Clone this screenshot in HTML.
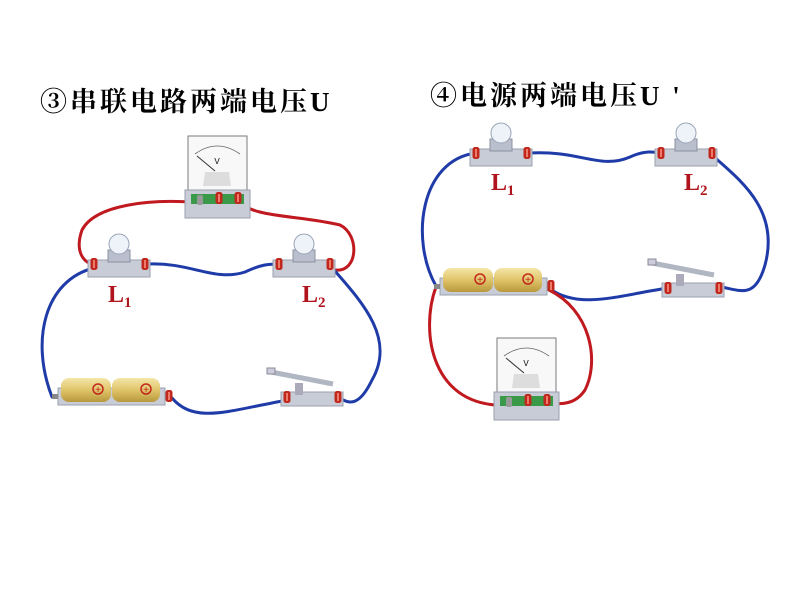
<!DOCTYPE html>
<html><head><meta charset="utf-8"><style>
body{margin:0;background:#fff;width:800px;height:600px;overflow:hidden}
.t{position:absolute;font-family:"Liberation Serif","Noto Serif CJK SC",serif;font-weight:bold;font-size:27px;color:#000;white-space:nowrap;letter-spacing:3px}
</style></head><body>
<div class="t" style="left:40px;top:80px">③串联电路两端电压U</div>
<div class="t" style="left:430px;top:74px">④电源两端电压U '</div>
<svg width="800" height="600" style="position:absolute;left:0;top:0">
<defs>
<linearGradient id="bat" x1="0" y1="0" x2="0" y2="1"><stop offset="0" stop-color="#f4e6a8"/><stop offset=".5" stop-color="#e0c46a"/><stop offset="1" stop-color="#b8983c"/></linearGradient>
<g id="term"><rect x="-3.5" y="-6" width="7" height="12" rx="2.5" fill="#c0281e"/><rect x="-1" y="-4" width="2" height="8" fill="#f07a6a"/></g>
<g id="lamp">
<rect x="0" y="0" width="62" height="17" fill="#c8ccd6" stroke="#9aa0ae"/>
<rect x="20" y="-10" width="22" height="12" fill="#b9bfcc" stroke="#8a90a0"/>
<circle cx="31" cy="-16" r="10" fill="#eef3fa" stroke="#9aa4b6"/>
<use href="#term" x="6" y="4"/><use href="#term" x="57" y="4"/>
</g>
<g id="battery">
<rect x="0" y="10" width="107" height="17" fill="#c8ccd6" stroke="#9aa0ae"/>
<rect x="3" y="0" width="50" height="24" rx="8" fill="url(#bat)"/>
<rect x="54" y="0" width="48" height="24" rx="8" fill="url(#bat)"/>
<circle cx="40" cy="11" r="5" fill="none" stroke="#c0281e" stroke-width="1.5"/><text x="40" y="15" font-size="10" text-anchor="middle" fill="#c0281e" font-family="Liberation Sans,sans-serif">+</text>
<circle cx="88" cy="11" r="5" fill="none" stroke="#c0281e" stroke-width="1.5"/><text x="88" y="15" font-size="10" text-anchor="middle" fill="#c0281e" font-family="Liberation Sans,sans-serif">+</text>
<use href="#term" x="111" y="18"/>
<rect x="-6" y="16" width="6" height="5" fill="#888"/>
</g>
<g id="switch">
<rect x="0" y="5" width="62" height="14" fill="#c8ccd6" stroke="#9aa0ae"/>
<rect x="14" y="-4" width="8" height="12" fill="#aab"/>
<line x1="-10" y1="-15" x2="52" y2="-3" stroke="#b0b6c2" stroke-width="5"/>
<rect x="-14" y="-19" width="8" height="6" fill="#ccd" stroke="#889"/>
<use href="#term" x="6" y="10"/><use href="#term" x="57" y="10"/>
</g>
<g id="vm">
<rect x="3" y="0" width="59" height="54" fill="#f8f8f8" stroke="#7a7a7a"/>
<path d="M10 18 Q32 2 55 18" fill="none" stroke="#666" stroke-width=".8"/>
<text x="32" y="28" font-size="8" text-anchor="middle" font-family="Liberation Sans,sans-serif">V</text>
<line x1="12" y1="20" x2="30" y2="35" stroke="#333"/>
<path d="M20 36 L44 36 L46 50 L18 50Z" fill="#ddd"/>
<rect x="0" y="54" width="65" height="28" fill="#c8ccd6" stroke="#9aa0ae"/>
<rect x="6" y="58" width="53" height="10" fill="#3a9a4a"/>
<rect x="12" y="59" width="6" height="10" rx="2" fill="#999"/>
<use href="#term" x="34" y="62"/><use href="#term" x="53" y="62"/>
</g>
</defs>
<g fill="none" stroke-width="3" stroke-linecap="round">
<path d="M202 203 C150 198 95 205 82 230 C75 250 82 262 94 265" stroke="#c0191f"/>
<path d="M238 200 C250 218 300 215 340 225 C360 235 358 272 336 270" stroke="#c0191f"/>
<path d="M148 264 C190 262 215 282 245 272 C260 265 270 263 279 265" stroke="#1f3ba8"/>
<path d="M94 268 C45 280 30 340 52 397" stroke="#1f3ba8"/>
<path d="M334 270 C365 305 395 340 372 380 C360 405 350 405 340 398" stroke="#1f3ba8"/>
<path d="M172 398 C195 425 230 410 288 400" stroke="#1f3ba8"/>
<path d="M476 153 C420 160 410 240 436 286" stroke="#1f3ba8"/>
<path d="M529 153 C580 150 600 170 630 157 C645 150 655 152 661 153" stroke="#1f3ba8"/>
<path d="M713 156 C740 180 780 210 765 265 C755 300 740 290 721 287" stroke="#1f3ba8"/>
<path d="M550 289 C580 310 620 295 668 288" stroke="#1f3ba8"/>
<path d="M436 287 C420 330 430 410 510 405" stroke="#c0191f"/>
<path d="M549 290 C590 310 600 360 585 390 C575 405 560 405 548 402" stroke="#c0191f"/>
</g>
<use href="#vm" x="185" y="136"/>
<use href="#lamp" x="88" y="260"/>
<use href="#lamp" x="273" y="260"/>
<use href="#battery" x="58" y="378"/>
<use href="#switch" x="281" y="387"/>
<use href="#lamp" x="470" y="149"/>
<use href="#lamp" x="655" y="149"/>
<use href="#battery" x="440" y="268"/>
<use href="#switch" x="662" y="278"/>
<use href="#vm" x="494" y="338"/>
<g font-family="Liberation Serif,serif" font-weight="bold" fill="#b0141c">
<text x="108" y="302" font-size="24">L<tspan font-size="15" dy="5">1</tspan></text>
<text x="302" y="302" font-size="24">L<tspan font-size="15" dy="5">2</tspan></text>
<text x="491" y="190" font-size="24">L<tspan font-size="15" dy="5">1</tspan></text>
<text x="684" y="190" font-size="24">L<tspan font-size="15" dy="5">2</tspan></text>
</g>
</svg>
</body></html>
